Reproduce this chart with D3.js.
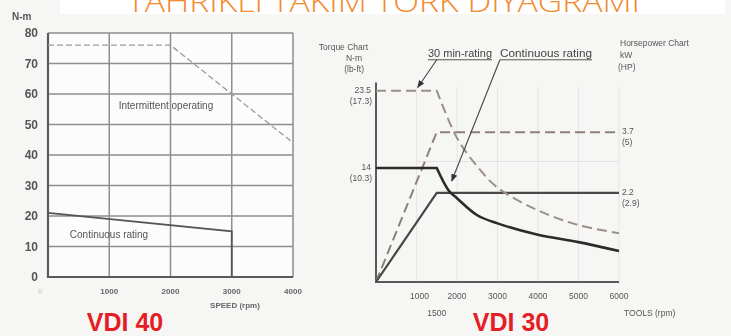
<!DOCTYPE html>
<html>
<head>
<meta charset="utf-8">
<style>
  body { margin: 0; background: #f6f6f4; font-family: "Liberation Sans", Arial, sans-serif; }
  svg { display: block; }
  .lbl { fill: #555; font-size: 8.5px; }
  .tk40 { fill: #555; font-size: 12px; font-weight: bold; }
  .tkx { fill: #666; font-size: 8px; font-weight: bold; }
</style>
<title>Tork diyagrami</title>
</head>
<body>
<script src="https://cdn.jsdelivr.net/npm/d3@7"></script>
<script>

// ---- data: VDI 40 (left)
var vdi40TicksY = [0, 10, 20, 30, 40, 50, 60, 70, 80];
var vdi40TicksX = [1000, 2000, 3000, 4000];
var intermittentRpm = [0, 2000, 4000];
var intermittentNm  = [76, 76, 44];
var continuous40Rpm = [0, 3000, 3000];
var continuous40Nm  = [21, 15, 0];

// ---- data: VDI 30 (right)
var vdi30TicksX = [1000, 2000, 3000, 4000, 5000, 6000];
var torque30Rpm = [0, 1500, 2000, 2500, 3000, 4000, 5000, 6000];
var torque30Nm  = [23.5, 23.5, 17.7, 14.2, 11.6, 8.8, 7.0, 6.0];
var torqueContRpm = [0, 1500, 1800, 2000, 2500, 3000, 4000, 5000, 6000];
var torqueContNm  = [14, 14, 11.2, 10.3, 8.2, 7.2, 5.8, 4.9, 3.8];
var power30Rpm = [0, 1500, 6000];
var power30Kw  = [0, 3.7, 3.7];
var powerContRpm = [0, 1500, 6000];
var powerContKw  = [0, 2.2, 2.2];
var torqueLabels = [{v: 23.5, a: "23.5", b: "(17.3)"}, {v: 14, a: "14", b: "(10.3)"}];
var powerLabels  = [{v: 3.7, a: "3.7", b: "(5)"}, {v: 2.2, a: "2.2", b: "(2.9)"}];

var width = 731, height = 336;

var svg = d3.select("body").append("svg")
  .attr("width", width)
  .attr("height", height);

svg.append("defs").append("filter").attr("id", "soft")
  .append("feGaussianBlur").attr("stdDeviation", 0.35);

svg.append("rect").attr("x", 60).attr("y", 0).attr("width", 665).attr("height", 14).attr("fill", "#fff");

// title, cut at the top as in the scan
svg.append("text")
  .attr("x", 127).attr("y", 12)
  .attr("fill", "#f28a2e")
  .attr("textLength", 513).attr("lengthAdjust", "spacingAndGlyphs")
  .style("font-family", "'Open Sans', sans-serif")
  .style("font-weight", 300)
  .style("font-size", "30px")
  .text("TAHRIKLI TAKIM TORK DIYAGRAMI");

var g = svg.append("g").attr("filter", "url(#soft)");

//------ left chart
var x40 = d3.scaleLinear().domain([0, 4000]).range([48, 293]);
var y40 = d3.scaleLinear().domain([0, 80]).range([277, 33]);

g.append("rect").attr("x", 48).attr("y", 33).attr("width", 245).attr("height", 244).attr("fill", "#fcfcfc");

g.selectAll(".hgrid").data(vdi40TicksY).enter().append("line")
  .attr("x1", x40(0)).attr("x2", x40(4000))
  .attr("y1", function(d) { return y40(d); }).attr("y2", function(d) { return y40(d); })
  .attr("stroke", "#8e8e8e").attr("stroke-width", 1.5);

g.selectAll(".vgrid").data(vdi40TicksX).enter().append("line")
  .attr("x1", function(d) { return x40(d); }).attr("x2", function(d) { return x40(d); })
  .attr("y1", y40(0)).attr("y2", y40(80))
  .attr("stroke", "#8e8e8e").attr("stroke-width", 1.5);

// darker axes
g.append("path").attr("d", "M" + x40(0) + "," + y40(80) + "V" + y40(0) + "H" + x40(4000))
  .attr("fill", "none").attr("stroke", "#5a5a5a").attr("stroke-width", 2.2);

g.selectAll(".tk40").data(vdi40TicksY).enter().append("text")
  .attr("class", "tk40")
  .attr("x", 38).attr("y", function(d) { return y40(d) + 4; })
  .attr("text-anchor", "end")
  .text(function(d) { return d; });

g.selectAll(".tkx").data(vdi40TicksX).enter().append("text")
  .attr("class", "tkx")
  .attr("x", function(d) { return x40(d); }).attr("y", 294)
  .attr("text-anchor", "middle")
  .text(function(d) { return d; });

g.append("text").attr("class", "tkx").attr("x", 38).attr("y", 294).attr("fill-opacity", 0.25).text("0");
g.append("text").attr("class", "tkx").attr("x", 235).attr("y", 308).attr("text-anchor", "middle").text("SPEED (rpm)");
g.append("text").attr("x", 12).attr("y", 20).attr("fill", "#555")
  .style("font-size", "10px").style("font-weight", "bold").text("N-m");

var line40 = d3.line()
  .x(function(d) { return x40(d[0]); })
  .y(function(d) { return y40(d[1]); });

g.append("path")
  .attr("d", line40(d3.zip(intermittentRpm, intermittentNm)))
  .attr("fill", "none").attr("stroke", "#9a9a9a").attr("stroke-width", 1.3)
  .attr("stroke-dasharray", "6,3");

g.append("path")
  .attr("d", line40(d3.zip(continuous40Rpm, continuous40Nm)))
  .attr("fill", "none").attr("stroke", "#555").attr("stroke-width", 1.8);

g.append("text").attr("x", 166).attr("y", 109).attr("text-anchor", "middle")
  .attr("fill", "#555").style("font-size", "10px").text("Intermittent operating");
g.append("text").attr("x", 109).attr("y", 238).attr("text-anchor", "middle")
  .attr("fill", "#555").style("font-size", "10px").text("Continuous rating");

//------ right chart
var x30 = d3.scaleLinear().domain([0, 6000]).range([376, 619]);
var yT = d3.scaleLinear().domain([0, 25]).range([282, 78.5]);
var yP = d3.scaleLinear().domain([0, 5]).range([282, 79.5]);

g.selectAll(".vg30").data(vdi30TicksX).enter().append("line")
  .attr("x1", function(d) { return x30(d); }).attr("x2", function(d) { return x30(d); })
  .attr("y1", yT(0)).attr("y2", yT(24))
  .attr("stroke", "#e6e6e6").attr("stroke-width", 1);

g.append("line").attr("x1", x30(1000)).attr("x2", x30(6000)).attr("y1", yT(14.8)).attr("y2", yT(14.8))
  .attr("stroke", "#e2e2e2");

g.append("path").attr("d", "M" + x30(0) + "," + yT(24.5) + "V" + yT(0) + "H" + x30(6000))
  .attr("fill", "none").attr("stroke", "#5a5a5a").attr("stroke-width", 2);

g.selectAll(".tx30").data(vdi30TicksX).enter().append("text")
  .attr("class", "lbl")
  .attr("x", function(d) { return x30(d) + (d == 1000 ? 3 : 0); }).attr("y", 299)
  .attr("text-anchor", "middle")
  .text(function(d) { return d; });
g.append("text").attr("class", "lbl").attr("x", x30(1500)).attr("y", 316).attr("text-anchor", "middle").text("1500");
g.append("text").attr("class", "lbl").attr("x", 624).attr("y", 316).text("TOOLS (rpm)");

var tl = g.selectAll(".tl").data(torqueLabels).enter().append("text")
  .attr("class", "lbl").attr("text-anchor", "end").attr("x", 372);
tl.append("tspan").attr("x", 371).attr("y", function(d) { return yT(d.v) + 2; }).text(function(d) { return d.a; });
tl.append("tspan").attr("x", 372).attr("y", function(d) { return yT(d.v) + 13; }).text(function(d) { return d.b; });

var pl = g.selectAll(".pl").data(powerLabels).enter().append("text")
  .attr("class", "lbl");
pl.append("tspan").attr("x", 622).attr("y", function(d) { return yP(d.v) + 2; }).text(function(d) { return d.a; });
pl.append("tspan").attr("x", 622).attr("y", function(d) { return yP(d.v) + 13; }).text(function(d) { return d.b; });

var hdrL = g.append("text").attr("class", "lbl").attr("text-anchor", "end");
hdrL.append("tspan").attr("x", 368).attr("y", 50).text("Torque Chart");
hdrL.append("tspan").attr("x", 362).attr("y", 61).text("N-m");
hdrL.append("tspan").attr("x", 364).attr("y", 72).text("(lb-ft)");

var hdrR = g.append("text").attr("class", "lbl");
hdrR.append("tspan").attr("x", 620).attr("y", 46).text("Horsepower Chart");
hdrR.append("tspan").attr("x", 620).attr("y", 58).text("kW");
hdrR.append("tspan").attr("x", 618).attr("y", 70).text("(HP)");

var lineT = d3.line()
  .x(function(d) { return x30(d[0]); })
  .y(function(d) { return yT(d[1]); });
var curveT = d3.line()
  .curve(d3.curveCatmullRom.alpha(0.5))
  .x(function(d) { return x30(d[0]); })
  .y(function(d) { return yT(d[1]); });
var lineP = d3.line()
  .x(function(d) { return x30(d[0]); })
  .y(function(d) { return yP(d[1]); });

var t30 = d3.zip(torque30Rpm, torque30Nm);
var tC = d3.zip(torqueContRpm, torqueContNm);

// power lines
g.append("path").attr("d", lineP(d3.zip(power30Rpm, power30Kw)))
  .attr("fill", "none").attr("stroke", "#8d807c").attr("stroke-width", 2)
  .attr("stroke-dasharray", "10,5");
g.append("path").attr("d", lineP(d3.zip(powerContRpm, powerContKw)))
  .attr("fill", "none").attr("stroke", "#4a4646").attr("stroke-width", 2.2);

// torque lines
g.append("path").attr("d", lineT(t30.slice(0, 2)) + curveT(t30.slice(1)).replace(/^M/, "L"))
  .attr("fill", "none").attr("stroke", "#9c8e8a").attr("stroke-width", 2)
  .attr("stroke-dasharray", "10,5");
g.append("path").attr("d", lineT(tC.slice(0, 2)) + curveT(tC.slice(1)).replace(/^M/, "L"))
  .attr("fill", "none").attr("stroke", "#2e2a2a").attr("stroke-width", 2.6);

// annotations (label anchor and arrow tip in data units)
var notes = [
  {text: "30 min-rating", x: 428, w: 64, fromRpm: 1500, tipRpm: 1030, tipNm: 23.9},
  {text: "Continuous rating", x: 500, w: 92, fromRpm: 3060, tipRpm: 1870, tipNm: 12.4}
];
var labelNm = 27.3;

var defs = svg.select("defs");
defs.append("marker").attr("id", "arr")
  .attr("viewBox", "0 0 10 10").attr("refX", 9).attr("refY", 5)
  .attr("markerWidth", 7).attr("markerHeight", 7).attr("orient", "auto")
  .append("path").attr("d", "M0,1L10,5L0,9z").attr("fill", "#333");

notes.forEach(function(n) {
  g.append("text").attr("x", n.x).attr("y", yT(labelNm) - 3).attr("fill", "#444")
    .style("font-size", "10px")
    .attr("textLength", n.w).attr("lengthAdjust", "spacingAndGlyphs")
    .text(n.text);
  g.append("line").attr("x1", n.x).attr("x2", n.x + n.w)
    .attr("y1", yT(labelNm)).attr("y2", yT(labelNm))
    .attr("stroke", "#555").attr("stroke-width", 1);
  g.append("line")
    .attr("x1", x30(n.fromRpm)).attr("y1", yT(labelNm))
    .attr("x2", x30(n.tipRpm)).attr("y2", yT(n.tipNm))
    .attr("stroke", "#444").attr("stroke-width", 1.1)
    .attr("marker-end", "url(#arr)");
});

// captions
svg.append("text").attr("x", 125).attr("y", 331).attr("text-anchor", "middle")
  .attr("fill", "#e41e26").style("font-size", "25px").style("font-weight", "bold").text("VDI 40");
svg.append("text").attr("x", 511).attr("y", 331).attr("text-anchor", "middle")
  .attr("fill", "#e41e26").style("font-size", "25px").style("font-weight", "bold").text("VDI 30");

</script>
</body>
</html>
